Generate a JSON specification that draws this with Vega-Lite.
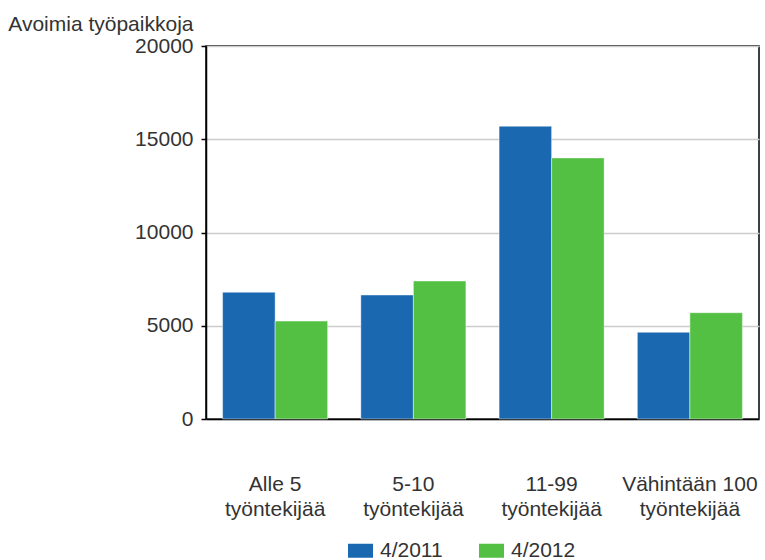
{
  "$schema": "https://vega.github.io/schema/vega-lite/v6.json",
  "autosize": {"type": "none"},
  "width": 553,
  "height": 373,
  "padding": {"left": 206, "top": 46, "right": 6, "bottom": 141},
  "background": "#ffffff",
  "config": {
    "font": "Liberation Sans",
    "view": {"stroke": "#000000", "strokeWidth": 1.5}
  },
  "data": {
    "values": [
      {"koko": "Alle 5 työntekijää", "kausi": "4/2011", "avoimia": 6800},
      {"koko": "Alle 5 työntekijää", "kausi": "4/2012", "avoimia": 5250},
      {"koko": "5-10 työntekijää", "kausi": "4/2011", "avoimia": 6650},
      {"koko": "5-10 työntekijää", "kausi": "4/2012", "avoimia": 7400},
      {"koko": "11-99 työntekijää", "kausi": "4/2011", "avoimia": 15700},
      {"koko": "11-99 työntekijää", "kausi": "4/2012", "avoimia": 14000},
      {"koko": "Vähintään 100 työntekijää", "kausi": "4/2011", "avoimia": 4650},
      {"koko": "Vähintään 100 työntekijää", "kausi": "4/2012", "avoimia": 5700}
    ]
  },
  "mark": {"type": "bar", "stroke": "#ffffff", "strokeOpacity": 0.45, "strokeWidth": 1},
  "encoding": {
    "x": {
      "field": "koko",
      "type": "nominal",
      "sort": null,
      "scale": {"paddingInner": 0.24, "paddingOuter": 0.12},
      "axis": {
        "title": null,
        "labelAngle": 0,
        "ticks": false,
        "domainColor": "#000000",
        "domainWidth": 1.5,
        "labelFontSize": 21,
        "labelColor": "#333333",
        "labelPadding": 54,
        "labelLineHeight": 25,
        "labelBaseline": "top",
        "labelExpr": "[slice(datum.label, 0, lastindexof(datum.label, ' ')), slice(datum.label, lastindexof(datum.label, ' ') + 1)]"
      }
    },
    "xOffset": {"field": "kausi", "type": "nominal"},
    "y": {
      "field": "avoimia",
      "type": "quantitative",
      "scale": {"domain": [0, 20000], "nice": false},
      "axis": {
        "values": [0, 5000, 10000, 15000, 20000],
        "format": "d",
        "title": "Avoimia työpaikkoja",
        "titleAngle": 0,
        "titleAlign": "right",
        "titleBaseline": "alphabetic",
        "titleX": -13,
        "titleY": -16,
        "titleFontSize": 21,
        "titleFontWeight": "normal",
        "titleColor": "#333333",
        "labelFontSize": 21,
        "labelColor": "#333333",
        "labelPadding": 8,
        "tickSize": 5,
        "tickColor": "#000000",
        "tickWidth": 1.5,
        "domainColor": "#000000",
        "domainWidth": 1.5,
        "gridColor": "#cccccc",
        "gridWidth": 1.5
      }
    },
    "color": {
      "field": "kausi",
      "type": "nominal",
      "scale": {"domain": ["4/2011", "4/2012"], "range": ["#1a68b0", "#53bf43"]},
      "legend": {
        "title": null,
        "orient": "none",
        "direction": "horizontal",
        "legendX": 142,
        "legendY": 492,
        "symbolType": "M-1,-0.56H1V0.56H-1Z",
        "symbolSize": 625,
        "symbolStrokeWidth": 0,
        "labelFontSize": 21,
        "labelColor": "#333333",
        "labelOffset": 7,
        "columnPadding": 36
      }
    }
  }
}
